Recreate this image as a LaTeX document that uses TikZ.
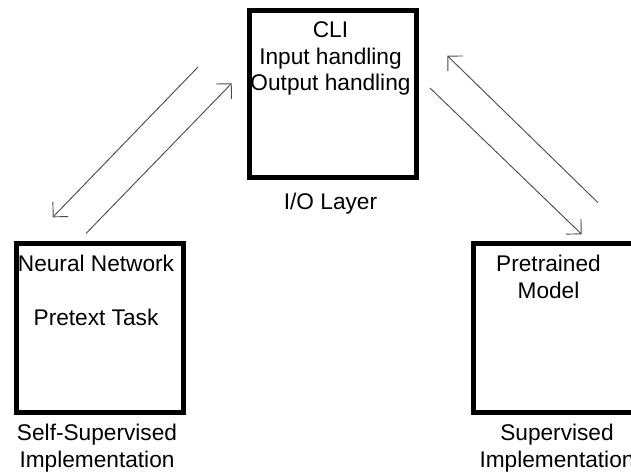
\documentclass[tikz,border=0pt]{standalone}
\usepackage{fontspec}
\setmainfont{Liberation Sans}
\usetikzlibrary{arrows.meta}
\begin{document}
\begin{tikzpicture}[x=0.75pt,y=-0.75pt,
  box/.style={draw=black,line width=3.4pt,rectangle,minimum width=125.25pt,minimum height=125.25pt,inner sep=0pt,anchor=north west},
  txt/.style={font=\fontsize{17}{20}\selectfont,align=center,inner sep=0pt},
  conn/.style={draw=black!70,line width=0.7pt,-{Straight Barb[length=8pt,width=16pt,line width=0.7pt]}}]
\useasboundingbox (0,0) rectangle (631,474);
% boxes (outer-line centres in px)
\node[box,minimum width=125.25pt,minimum height=125.25pt] (io) at (247,8) {};
\node[box,minimum width=125.25pt,minimum height=126.75pt] (ssl) at (14,241) {};
\node[box,minimum width=125.25pt,minimum height=126.75pt] (sup) at (471,241) {};
% texts
\node[txt] (iotext) at (330.5,58.5) {CLI\\Input handling\\Output handling};
\node[txt] (iolabel) at (330.5,204) {I/O Layer};
\node[txt] (ssltext1) at (96,263.5) {Neural Network};
\node[txt] (ssltext2) at (96,317.5) {Pretext Task};
\node[txt] (ssllabel) at (97,448) {Self-Supervised\\Implementation};
\node[txt] (suptext) at (548.5,277) {Pretrained\\Model};
\node[txt] (suplabel) at (557,448) {Supervised\\Implementation};
% connector ends
\coordinate (l1a) at (198,67);
\coordinate (l1b) at (52.7,217.3);
\coordinate (l2a) at (86,233.5);
\coordinate (l2b) at (231.7,83.3);
\coordinate (r1a) at (430,88);
\coordinate (r1b) at (581.7,234.3);
\coordinate (r2a) at (598,202.7);
\coordinate (r2b) at (447.3,55.7);
\draw[conn] (l1a) -- (l1b);
\draw[conn] (l2a) -- (l2b);
\draw[conn] (r1a) -- (r1b);
\draw[conn] (r2a) -- (r2b);
\end{tikzpicture}
\end{document}
